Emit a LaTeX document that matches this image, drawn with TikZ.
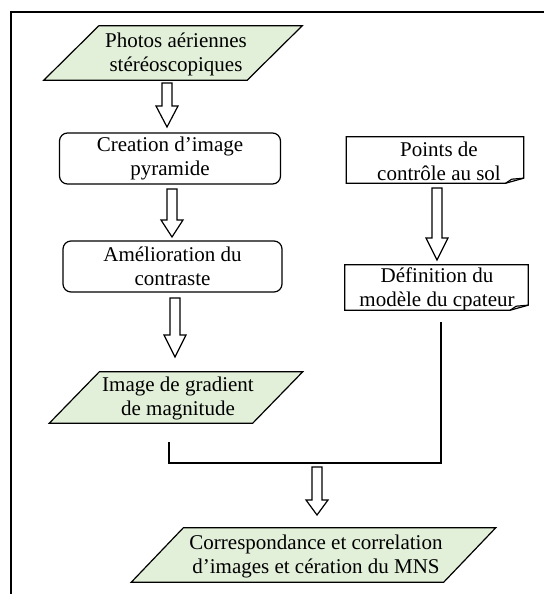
\documentclass[tikz,border=0pt]{standalone}
\usepackage{fontspec}
\setmainfont{Liberation Serif}
\definecolor{paragreen}{HTML}{E2EFD9}
\newcommand\hollowarrow[4]{%
  \draw[arrowshape] (#1-5,#2) -- (#1+5,#2) -- (#1+5,#3) -- (#1+11,#3) -- (#1,#4)
    -- (#1-11,#3) -- (#1-5,#3) -- cycle;}
\newcommand\drawpara[2]{% node name, slant
  \draw[parashape] ([xshift=#2]#1.north west) -- (#1.north east)
    -- ([xshift=-#2]#1.south east) -- (#1.south west) -- cycle;}
\newcommand\drawnote[1]{%
  \draw[boxline] (#1.north west) -- (#1.north east) -- ([yshift=5]#1.south east)
    -- ([xshift=-18]#1.south east) -- (#1.south west) -- cycle;
  \draw[boxline] ([xshift=-18]#1.south east) -- ([xshift=-12,yshift=4]#1.south east)
    -- ([yshift=5]#1.south east);}
\begin{document}
\begin{tikzpicture}[x=1pt,y=-1pt,
  txt/.style={font=\fontsize{21}{24}\selectfont, align=center, inner sep=0pt},
  boxline/.style={line width=1.2pt},
  parashape/.style={line width=1.2pt, fill=paragreen},
  arrowshape/.style={line width=1.2pt, fill=white},
  rbox/.style={txt, draw, line width=1.2pt, rounded corners=8pt},
  conn/.style={line width=1.7pt}]
\useasboundingbox (0,0) rectangle (544,594);
% frame
\draw[line width=1.6pt] (11,594) -- (11,12) -- (544,12);
% parallelogram 1
\node[txt, minimum width=258pt, minimum height=54pt] (p1) at (173,53) {};
\drawpara{p1}{55}
\node[txt] (p1t) at (176,54) {Photos aériennes\\stéréoscopiques};
% rounded boxes
\node[rbox, minimum width=221pt, minimum height=51pt] (b2) at (170,158.5) {Creation d’image\\pyramide};
\node[rbox, minimum width=219pt, minimum height=51pt] (b3) at (172.5,266.5) {Amélioration du\\contraste};
% parallelogram 2
\node[txt, minimum width=253pt, minimum height=51pt] (p2) at (176,397.5) {};
\drawpara{p2}{50}
\node[txt] (p2t) at (178,398) {Image de gradient\\de magnitude};
% parallelogram 3
\node[txt, minimum width=364pt, minimum height=54pt] (p3) at (313.5,555) {};
\drawpara{p3}{52}
\node[txt] (p3t) at (316,556) {Correspondance et correlation\\d’images et cération du MNS};
% note boxes
\node[txt, minimum width=177pt, minimum height=46pt] (n1) at (435,160) {};
\drawnote{n1}
\node[txt] (n1t) at (439,161) {Points de\\contrôle au sol};
\node[txt, minimum width=183pt, minimum height=45pt] (n2) at (436.5,287.5) {};
\drawnote{n2}
\node[txt] (n2t) at (437,289) {Définition du\\modèle du cpateur};
% block arrows
\hollowarrow{167}{83}{106}{127}
\hollowarrow{172}{189}{220}{237}
\hollowarrow{175}{298}{335}{357}
\hollowarrow{437}{188}{238}{260}
\hollowarrow{317}{467}{500}{515}
% joining connector
\coordinate (jl) at (169,442);
\coordinate (jr) at (441,322);
\draw[conn] (jl) -- (169,463) -| (jr);
\end{tikzpicture}
\end{document}
